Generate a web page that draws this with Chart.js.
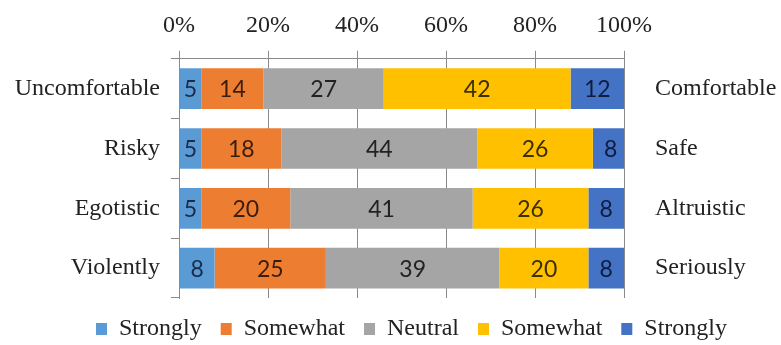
<!DOCTYPE html>
<html lang="en">
<head>
  <meta charset="UTF-8" />
  <title>Attitude scale</title>
  <script src="https://cdn.jsdelivr.net/npm/chart.js"></script>
  <style>
    html, body { margin: 0; padding: 0; background: #fff; }
    #wrap { width: 781px; height: 345px; }
  </style>
</head>
<body>
  <div id="wrap"><canvas id="chart"></canvas></div>

  <script>
    // rows, left pole / right pole
    const leftLabels = ['Uncomfortable', 'Risky', 'Egotistic', 'Violently'];
    const rightLabels = ['Comfortable', 'Safe', 'Altruistic', 'Seriously'];

    const seriesNames = ['Strongly', 'Somewhat', 'Neutral', 'Somewhat', 'Strongly'];
    const stronglyLeft = [5, 5, 5, 8];
    const somewhatLeft = [14, 18, 20, 25];
    const neutral = [27, 44, 41, 39];
    const somewhatRight = [42, 26, 26, 20];
    const stronglyRight = [12, 8, 8, 8];

    const xTicks = [0, 20, 40, 60, 80, 100];

    const fills = ['#5B9BD5', '#ED7D31', '#A5A5A5', '#FFC000', '#4472C4'];
    const inkColors = ['#1c2b4a', '#3a1d0c', '#222222', '#3d2e00', '#0f1c40'];
    const serif = '"Liberation Serif", "Times New Roman", serif';

    const series = [stronglyLeft, somewhatLeft, neutral, somewhatRight, stronglyRight];

    // simple in-bar value labels (no datalabels plugin offline)
    const valueLabels = {
      id: 'valueLabels',
      afterDatasetsDraw(chart) {
        const ctx = chart.ctx;
        ctx.save();
        ctx.font = '23px Lato, "Open Sans", sans-serif';
        ctx.textAlign = 'center';
        ctx.textBaseline = 'middle';
        chart.data.datasets.forEach((ds, i) => {
          const meta = chart.getDatasetMeta(i);
          meta.data.forEach((bar, j) => {
            const p = bar.getCenterPoint();
            ctx.fillStyle = inkColors[i];
            ctx.fillText(String(ds.data[j]), p.x, p.y + 1);
          });
        });
        ctx.restore();
      }
    };

    const gridColor = '#8a8a8a';

    new Chart(document.getElementById('chart'), {
      type: 'bar',
      data: {
        labels: leftLabels,
        datasets: series.map((vals, i) => ({
          label: seriesNames[i],
          data: vals,
          backgroundColor: fills[i],
          borderWidth: 0,
          barPercentage: 0.68,
          categoryPercentage: 1
        }))
      },
      options: {
        indexAxis: 'y',
        responsive: true,
        maintainAspectRatio: false,
        animation: false,
        layout: { padding: { left: 0, right: -42, top: 0, bottom: -6 } },
        plugins: {
          legend: {
            position: 'bottom',
            labels: {
              boxWidth: 11,
              boxHeight: 12,
              padding: 19,
              color: '#222',
              font: { family: serif, size: 24 }
            }
          },
          tooltip: { enabled: false }
        },
        scales: {
          x: {
            position: 'top',
            stacked: true,
            min: 0,
            max: 100,
            afterBuildTicks: (scale) => { scale.ticks = xTicks.map(v => ({ value: v })); },
            ticks: {
              callback: (v) => v + '%',
              color: '#222',
              padding: 11,
              font: { family: serif, size: 24 }
            },
            grid: { color: gridColor, tickLength: 8 },
            border: { color: gridColor }
          },
          y: {
            stacked: true,
            afterFit: (scale) => { scale.width = 179; },
            ticks: {
              color: '#222',
              padding: 11,
              font: { family: serif, size: 24 }
            },
            grid: { drawOnChartArea: false, color: gridColor, tickLength: 8, offset: true },
            border: { color: gridColor }
          },
          y2: {
            type: 'category',
            labels: rightLabels,
            position: 'right',
            offset: true,
            afterFit: (scale) => { scale.width = 199; },
            ticks: {
              color: '#222',
              padding: 23,
              font: { family: serif, size: 24 }
            },
            grid: { display: false },
            border: { display: false }
          }
        }
      },
      plugins: [valueLabels]
    });
  </script>
</body>
</html>
